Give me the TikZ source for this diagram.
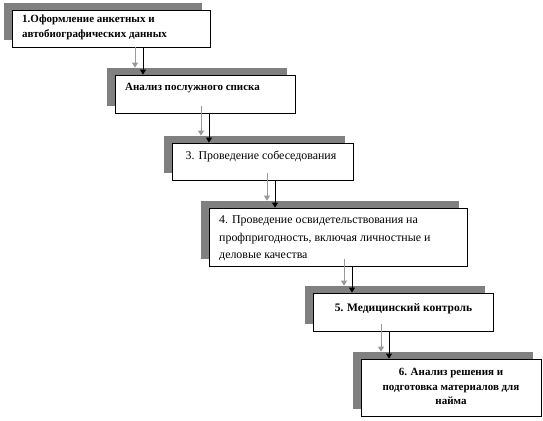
\documentclass[tikz,border=0pt]{standalone}
\usepackage{fontspec}
\setmainfont{Liberation Serif}
\usetikzlibrary{backgrounds,arrows.meta}
\definecolor{shade}{HTML}{808080}
\definecolor{garrow}{HTML}{999999}
\tikzset{
  boxn/.style={draw=black, line width=0.8pt, fill=white, inner sep=0pt},
  txt/.style={inner sep=0pt, font=\fontsize{11.9}{15}\selectfont},
  btxt/.style={inner sep=0pt, font=\fontsize{11}{15}\selectfont\bfseries},
  blk/.style={draw=black, line width=0.9pt, -{Triangle[length=5pt,width=6pt]}},
  gry/.style={draw=garrow, line width=0.9pt, -{Triangle[length=5pt,width=6pt]}},
  shd/.style={fill=shade}
}
\begin{document}
\begin{tikzpicture}[x=1pt,y=-1pt]
\useasboundingbox (0,0) rectangle (543,420);
% boxes
\node[boxn, minimum width=198pt, minimum height=37pt] (b1) at (111,28.5) {};
\node[boxn, minimum width=180pt, minimum height=38pt] (b2) at (205,94) {};
\node[boxn, minimum width=181pt, minimum height=37pt] (b3) at (262.5,161.5) {};
\node[boxn, minimum width=258pt, minimum height=58pt] (b4) at (338,237) {};
\node[boxn, minimum width=180pt, minimum height=38pt] (b5) at (403,312) {};
\node[boxn, minimum width=180pt, minimum height=57pt] (b6) at (451,387.5) {};
% shadows
\begin{scope}[on background layer]
\foreach \b in {b1,b2,b3,b4,b5,b6}{
  \fill[shd] ([shift={(-8,-7)}]\b.south west) rectangle ([shift={(-8,-7)}]\b.north east);
}
\end{scope}
% texts
\node[btxt, anchor=west, align=left] (t1) at (22,27.5) {1.Оформление анкетных и\\автобиографических данных};
\node[btxt, anchor=west] (t2) at (125,88) {Анализ послужного списка};
\node[txt] (t3) at (261,157) {3. Проведение собеседования};
\node[txt, anchor=west, align=left, font=\fontsize{11.9}{17.5}\selectfont] (t4) at (219,238.5) {4. Проведение освидетельствования на\\профпригодность, включая личностные и\\деловые качества};
\node[btxt, font=\fontsize{11.5}{15}\selectfont\bfseries] (t5) at (403.5,309) {5. Медицинский контроль};
\node[btxt, align=center, font=\fontsize{11}{14.5}\selectfont\bfseries] (t6) at (451,386.5) {6. Анализ решения и\\подготовка материалов для\\найма};
% arrows
\draw[gry] (b1.south -| 135,0) -- ([yshift=7pt]b2.north -| 135,0);
\draw[blk] (b1.south -| 143,0) -- (b2.north -| 143,0);
\draw[gry] ([yshift=7pt]b2.south -| 201,0) -- ([yshift=7pt]b3.north -| 201,0);
\draw[blk] (b2.south -| 209,0) -- (b3.north -| 209,0);
\draw[gry] ([yshift=7pt]b3.south -| 267,0) -- ([yshift=7pt]b4.north -| 267,0);
\draw[blk] (b3.south -| 275,0) -- (b4.north -| 275,0);
\draw[gry] ([yshift=7pt]b4.south -| 344,0) -- ([yshift=7pt]b5.north -| 344,0);
\draw[blk] (b4.south -| 352,0) -- (b5.north -| 352,0);
\draw[gry] ([yshift=7pt]b5.south -| 381,0) -- ([yshift=7pt]b6.north -| 381,0);
\draw[blk] (b5.south -| 389,0) -- (b6.north -| 389,0);
\end{tikzpicture}
\end{document}
